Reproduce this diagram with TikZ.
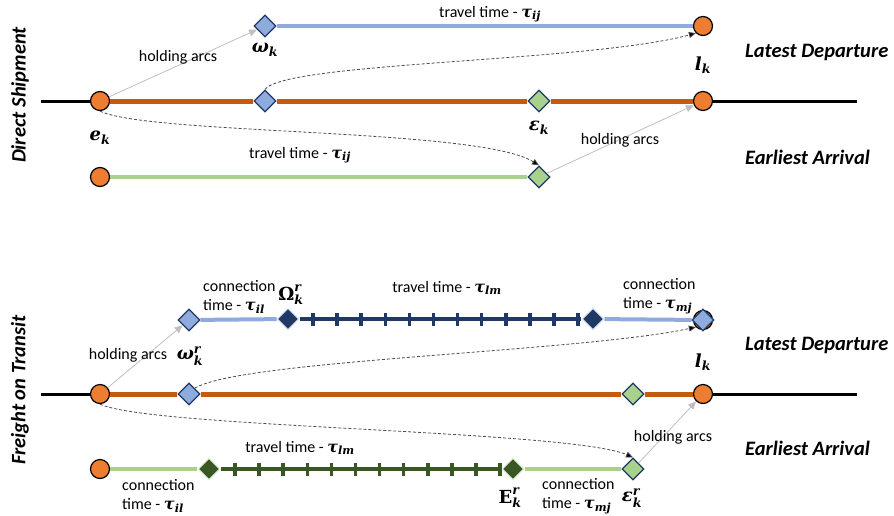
\documentclass[tikz,border=0pt]{standalone}
\usepackage[no-math]{fontspec}
\usepackage{amsmath}
\setmainfont{Carlito}
\newfontfamily\mfontfam{DejaVu Serif}
\newcommand{\mlx}[1]{\text{\mfontfam\bfseries\itshape #1}}
\newcommand{\mlu}[1]{\text{\mfontfam\bfseries #1}}
\usetikzlibrary{shapes.geometric,arrows.meta}
\definecolor{orgline}{HTML}{C55A11}
\definecolor{orgfill}{HTML}{ED7D31}
\definecolor{lblue}{HTML}{8FAADC}
\definecolor{navy}{HTML}{203864}
\definecolor{lgreen}{HTML}{A9D18E}
\definecolor{dgreen}{HTML}{385723}
\definecolor{holdgrey}{HTML}{BFBFBF}
\definecolor{paleblue}{HTML}{DAE3F3}
\definecolor{palegreen}{HTML}{E2F0D9}
\begin{document}
\begin{tikzpicture}[x=1pt,y=-1pt,
  circ/.style={circle,draw=black,line width=1.2pt,fill=orgfill,minimum size=19pt,inner sep=0pt},
  dia/.style={diamond,draw=navy,line width=1.2pt,minimum width=22pt,minimum height=22pt,inner sep=0pt},
  bdia/.style={dia,fill=lblue},
  gdia/.style={dia,fill=lgreen},
  ddia/.style={dia,fill=navy,draw=paleblue},
  gddia/.style={dia,fill=dgreen,draw=palegreen},
  blk/.style={line width=3pt,black},
  org/.style={line width=5pt,orgline},
  blu/.style={line width=4pt,lblue},
  grn/.style={line width=4pt,lgreen},
  dblu/.style={line width=4pt,navy},
  dgrn/.style={line width=4pt,dgreen},
  hold/.style={line width=0.8pt,holdgrey,-{Triangle[length=8pt,width=7pt]}},
  dsh/.style={line width=0.8pt,black!70,dash pattern=on 3pt off 2pt,-{Triangle[length=7pt,width=6pt,fill=black]}},
  lab/.style={font=\fontsize{16}{18}\selectfont,inner sep=0pt},
  clab/.style={font=\fontsize{16}{19}\selectfont,inner sep=0pt,align=left,anchor=west},
  mlab/.style={font=\fontsize{18}{20}\selectfont,inner sep=0pt},
  head/.style={font=\fontsize{20.5}{24}\selectfont\bfseries\itshape,inner sep=0pt}
]
\useasboundingbox (0,0) rectangle (894,515);

% ===== Direct Shipment =====
\node[circ] (ek1) at (100,101) {};
\node[circ] (rc1) at (703,101) {};
\node[circ] (lk1) at (703,26) {};
\node[circ] (gc1) at (100,177) {};
\node[bdia] (om1) at (265,26) {};
\node[bdia] (om1b) at (265,101) {};
\node[gdia] (ep1) at (539,101) {};
\node[gdia] (ep1b) at (539,177) {};
\coordinate (bl1) at (41,101);
\coordinate (br1) at (857,101);
\draw[blk] (bl1) -- (ek1);
\draw[blk] (rc1) -- (br1);
\draw[org] (ek1) -- (om1b);
\draw[org] (om1b) -- (ep1);
\draw[org] (ep1) -- (rc1);
\draw[blu] (om1) -- (lk1);
\draw[grn] (gc1) -- (ep1b);
\draw[hold] (ek1) -- (om1);
\draw[hold] (ep1b) -- (rc1);
\draw[dsh] (om1b.north) .. controls (285,62) and (590,62) .. (lk1.south west);
\draw[dsh] (ek1.south) .. controls (150,135) and (480,128) .. (ep1b.north);

\node[lab] (t1) at (490,14) {travel time - $\mlx{τ}_{\mlx{ij}}$};
\node[lab] (t2) at (300,155) {travel time - $\mlx{τ}_{\mlx{ij}}$};
\node[lab] (h1) at (178,57) {holding arcs};
\node[lab] (h2) at (620,140) {holding arcs};
\node[mlab] (lom1) at (265,50) {$\mlx{ω}_{\mlx{k}}$};
\node[mlab] (lep1) at (539,128) {$\mlx{ε}_{\mlx{k}}$};
\node[mlab] (lek1) at (100,138) {$\mlx{e}_{\mlx{k}}$};
\node[mlab] (llk1) at (703,65) {$\mlx{l}_{\mlx{k}}$};
\node[head,anchor=west] (ld1) at (745,52) {Latest Departure};
\node[head,anchor=west] (le1) at (745,157) {Earliest Arrival};
\node[head,rotate=90] (sec1) at (20,95) {Direct Shipment};

% ===== Freight on Transit =====
\node[circ] (ek2) at (100,394) {};
\node[circ] (rc2) at (703,394) {};
\node[circ] (lk2) at (703,320) {};
\node[bdia] (ld2) at (703,320) {};
\node[circ] (gc2) at (100,469) {};
\node[bdia] (om2) at (189,320) {};
\node[bdia] (om2b) at (189,394) {};
\node[gdia] (ep2) at (633,394) {};
\node[gdia] (ep2b) at (633,469) {};
\node[ddia] (Om2) at (288,319) {};
\node[ddia] (Om2e) at (593,319) {};
\node[gddia] (E2s) at (209,469) {};
\node[gddia] (E2e) at (513,469) {};
\coordinate (bl2) at (41,394);
\coordinate (br2) at (857,394);
\draw[blk] (bl2) -- (ek2);
\draw[blk] (rc2) -- (br2);
\draw[org] (ek2) -- (om2b);
\draw[org] (om2b) -- (ep2);
\draw[org] (ep2) -- (rc2);
\draw[blu] (om2) -- (Om2);
\draw[dblu] (Om2) -- (Om2e);
\draw[blu] (Om2e) -- (ld2);
\foreach \i in {0,...,11} {
  \draw[line width=3.5pt,navy] ({313+24.1*\i},312.5) -- ({313+24.1*\i},325.5);
}
\draw[grn] (gc2) -- (E2s);
\draw[dgrn] (E2s) -- (E2e);
\draw[grn] (E2e) -- (ep2b);
\foreach \i in {0,...,11} {
  \draw[line width=3.5pt,dgreen] ({235+24.1*\i},462.5) -- ({235+24.1*\i},475.5);
}
\draw[hold] (ek2) -- (om2);
\draw[hold] (ep2b) -- (rc2);
\draw[dsh] (om2b.north east) .. controls (240,360) and (580,352) .. (lk2.south west);
\draw[dsh] (ek2.south) .. controls (150,428) and (570,430) .. (ep2b.north);

\node[clab] (c1) at (203,297) {connection\\time - $\mlx{τ}_{\mlx{il}}$};
\node[lab] (t3) at (447,288) {travel time - $\mlx{τ}_{\mlx{lm}}$};
\node[clab] (c2) at (623,296) {connection\\time - $\mlx{τ}_{\mlx{mj}}$};
\node[mlab] (lOm2) at (291,295) {$\mlu{Ω}_{\mlx{k}}^{\mlx{r}}$};
\node[mlab] (lom2) at (190,356) {$\mlx{ω}_{\mlx{k}}^{\mlx{r}}$};
\node[lab] (h3) at (128,355) {holding arcs};
\node[mlab] (llk2) at (703,362) {$\mlx{l}_{\mlx{k}}$};
\node[lab] (t4) at (300,448) {travel time - $\mlx{τ}_{\mlx{lm}}$};
\node[clab] (c3) at (122,496) {connection\\time - $\mlx{τ}_{\mlx{il}}$};
\node[mlab] (lE2) at (510,498) {$\mlu{E}_{\mlx{k}}^{\mlx{r}}$};
\node[clab] (c4) at (542,496) {connection\\time - $\mlx{τ}_{\mlx{mj}}$};
\node[mlab] (lep2) at (632,498) {$\mlx{ε}_{\mlx{k}}^{\mlx{r}}$};
\node[lab] (h4) at (673,437) {holding arcs};
\node[head,anchor=west] (ld2t) at (745,345) {Latest Departure};
\node[head,anchor=west] (le2t) at (745,448) {Earliest Arrival};
\node[head,rotate=90] (sec2) at (20,390) {Freight on Transit};
\end{tikzpicture}
\end{document}
